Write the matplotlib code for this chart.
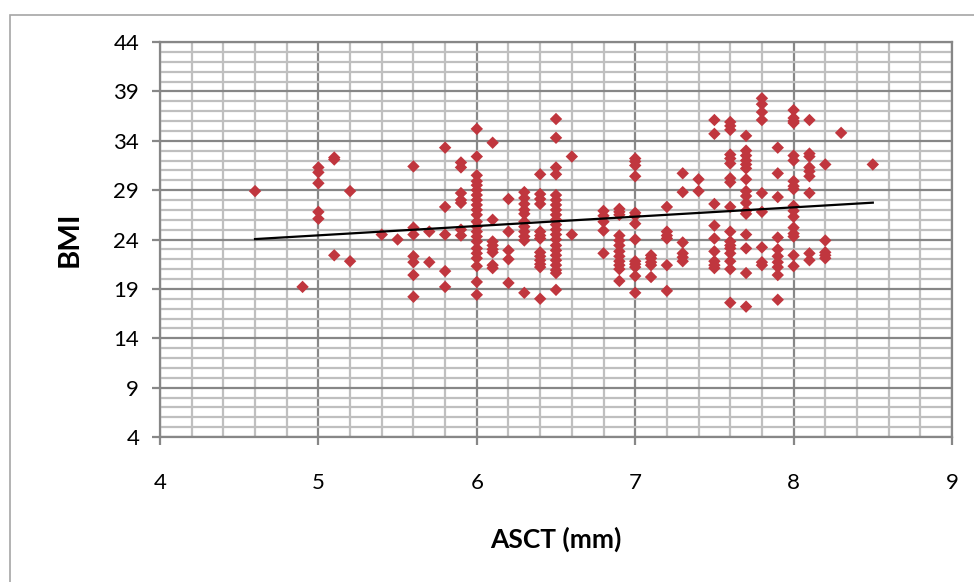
import numpy as np
import matplotlib
matplotlib.use("Agg")
import matplotlib.pyplot as plt
from matplotlib.ticker import MultipleLocator
from matplotlib.patches import Rectangle

plt.rcParams['font.family'] = ['Lato', 'DejaVu Sans']

# ASCT (mm) levels and the BMI values observed at each level
asct_levels = [4.6, 4.9, 5.0, 5.1, 5.2, 5.4, 5.5, 5.6, 5.7, 5.8, 5.9, 6.0, 6.1, 6.2,
               6.3, 6.4, 6.5, 6.6, 6.8, 6.9, 7.0, 7.1, 7.2, 7.3, 7.4, 7.5, 7.6,
               7.7, 7.8, 7.9, 8.0, 8.1, 8.2, 8.3, 8.5]
bmi_groups = [
    [28.9],
    [19.2],
    [31.3, 30.8, 29.7, 26.8, 26.1],
    [32.3, 32.1, 22.4],
    [28.9, 21.8],
    [24.5],
    [24.0],
    [31.4, 25.2, 24.5, 22.3, 21.7, 20.4, 18.2],
    [24.8, 21.7],
    [33.3, 27.3, 24.5, 20.8, 19.2],
    [31.8, 31.3, 28.7, 28.0, 27.7, 25.0, 24.4],
    [35.2, 32.4, 30.5, 29.9, 29.5, 29.0, 28.5, 28.0, 27.5, 27.0, 26.5, 25.8,
     25.3, 24.8, 24.3, 23.8, 23.1, 22.6, 22.1, 21.3, 19.7, 18.4],
    [33.8, 26.0, 23.8, 23.4, 23.0, 22.7, 21.4, 21.1],
    [28.1, 24.8, 22.9, 22.0, 19.6],
    [28.8, 28.2, 27.6, 27.0, 26.6, 25.8, 25.3, 24.8, 24.3, 23.9, 18.6],
    [30.6, 28.6, 28.1, 27.6, 24.8, 24.4, 24.1, 22.7, 22.3, 21.9, 21.5, 21.2, 18.0],
    [36.2, 34.3, 31.3, 30.6, 28.5, 28.0, 27.5, 27.0, 26.5, 26.0, 25.5, 25.0,
     24.5, 24.0, 23.4, 22.9, 22.4, 21.9, 21.4, 20.9, 20.6, 18.9],
    [32.4, 24.5],
    [26.9, 26.4, 25.8, 24.9, 22.6],
    [27.1, 26.8, 26.5, 24.4, 23.9, 23.4, 22.8, 22.3, 21.8, 21.4, 21.0, 19.8],
    [32.2, 31.9, 31.5, 30.4, 26.7, 26.4, 25.6, 24.0, 21.8, 21.5, 21.2, 20.3, 18.6],
    [22.4, 22.1, 21.7, 21.4, 20.2],
    [27.3, 24.8, 24.4, 24.1, 21.4, 18.8],
    [30.7, 28.8, 23.7, 22.6, 22.2, 21.8],
    [30.1, 28.9],
    [36.1, 34.7, 27.6, 25.4, 24.1, 22.8, 21.8, 21.4, 21.1],
    [35.9, 35.5, 35.1, 32.6, 32.2, 31.7, 30.2, 29.8, 27.3, 24.8, 23.8, 23.4,
     23.1, 22.6, 21.8, 21.0, 17.6],
    [34.5, 33.0, 32.5, 32.0, 31.6, 31.2, 30.1, 28.9, 28.4, 27.7, 26.9, 26.6,
     24.5, 23.1, 20.6, 17.2],
    [38.3, 37.7, 36.9, 36.1, 28.7, 26.8, 23.2, 21.7, 21.4],
    [33.3, 30.7, 28.3, 24.2, 23.0, 22.3, 21.7, 21.2, 20.4, 17.9],
    [37.1, 36.3, 36.0, 35.8, 32.5, 32.0, 29.9, 29.4, 29.1, 27.4, 26.9, 26.3,
     25.2, 24.6, 24.3, 22.4, 21.3],
    [36.1, 32.7, 32.4, 31.3, 30.9, 30.4, 28.7, 22.6, 21.9],
    [31.6, 23.9, 22.7, 22.4, 22.1],
    [34.8],
    [31.6],
]

x_label = "ASCT (mm)"
y_label = "BMI"
x_ticks = [4, 5, 6, 7, 8, 9]
y_ticks = [4, 9, 14, 19, 24, 29, 34, 39, 44]

asct = np.concatenate([[lv] * len(g) for lv, g in zip(asct_levels, bmi_groups)])
bmi = np.concatenate([np.array(g, dtype=float) for g in bmi_groups])

fig = plt.figure(figsize=(9.74, 5.82), dpi=100)
fig.patch.set_facecolor('white')
# chart-area border (Excel style)
fig.patches.append(Rectangle((10 / 974, -0.05), 1.05, 1 - 15 / 582 + 0.05,
                             transform=fig.transFigure, fill=False,
                             edgecolor='#A6A6A6', linewidth=1.2))

ax = fig.add_axes([160 / 974, 1 - 437 / 582, (952 - 160) / 974, (437 - 42) / 582])
ax.set_xlim(4, 9)
ax.set_ylim(4, 44)
ax.set_xticks(x_ticks)
ax.set_yticks(y_ticks)
ax.xaxis.set_minor_locator(MultipleLocator(0.2))
ax.yaxis.set_minor_locator(MultipleLocator(1))

ax.grid(which='minor', color='#BFBFBF', linewidth=1.6, zorder=0)
ax.grid(which='major', color='#878787', linewidth=1.6, zorder=0.5)
ax.set_axisbelow(True)

for s in ax.spines.values():
    s.set_color('#878787')
    s.set_linewidth(1.6)

ax.tick_params(which='major', direction='out', length=6, width=1.6, color='#878787',
               labelsize=16, labelcolor='black')
ax.tick_params(axis='x', which='major', pad=20)
ax.tick_params(axis='y', which='major', pad=9)
ax.tick_params(which='minor', length=0)

ax.scatter(asct, bmi, marker='D', s=40, color='#C0363E', edgecolors='none', zorder=3)

coef = np.polyfit(asct, bmi, 1)
xx = np.array([asct.min(), asct.max()])
ax.plot(xx, np.polyval(coef, xx), color='black', linewidth=1.6, zorder=4)

ax.set_xlabel(x_label, fontsize=19, fontweight='bold', labelpad=24)
ax.set_ylabel(y_label, fontsize=21, fontweight='bold', labelpad=22)

fig.savefig('out.png', dpi=100, facecolor='white')
